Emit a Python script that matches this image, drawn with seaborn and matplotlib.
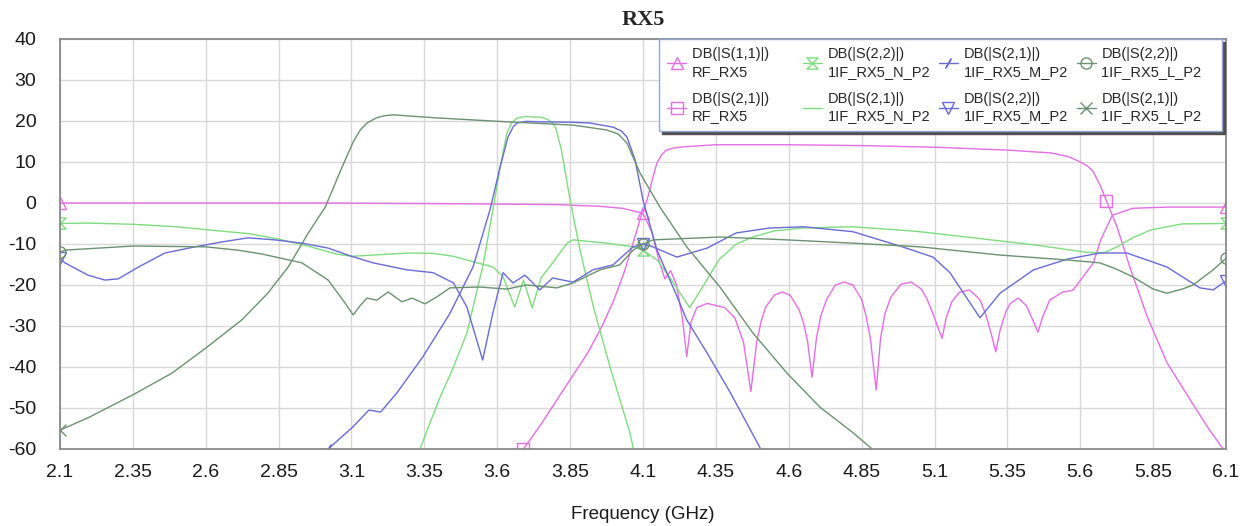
import numpy as np
import pandas as pd
import matplotlib
matplotlib.use("Agg")
import matplotlib.pyplot as plt
from matplotlib.lines import Line2D
import seaborn as sns

# ---------------- data (GHz, dB) ----------------
s11_rf_f = [2.1, 2.5, 3.0, 3.5, 3.8, 3.95, 4.03, 4.07, 4.1, 4.13, 4.155, 4.175, 4.195, 4.215, 4.235, 4.25,
            4.265, 4.285, 4.32, 4.38, 4.415, 4.445, 4.47, 4.49, 4.505, 4.52, 4.55, 4.577, 4.605, 4.635, 4.65,
            4.665, 4.68, 4.695, 4.71, 4.73, 4.76, 4.79, 4.82, 4.85, 4.865, 4.88, 4.9, 4.915, 4.93, 4.95, 4.985,
            5.02, 5.055, 5.075, 5.1, 5.115, 5.126, 5.14, 5.16, 5.185, 5.22, 5.255, 5.275, 5.295, 5.31, 5.325,
            5.345, 5.36, 5.387, 5.415, 5.44, 5.455, 5.47, 5.495, 5.54, 5.575, 5.62, 5.645, 5.67, 5.71, 5.78,
            5.9, 6.1]
s11_rf_db = [0, 0, 0, -0.2, -0.4, -0.8, -1.3, -2, -2.5, -7, -14, -18.5, -16.5, -20, -28, -37.5,
             -29, -25.5, -24.5, -25.5, -28, -34, -46, -34, -29, -25.5, -22.5, -21.7, -22.5, -26, -29,
             -34, -42.5, -33, -27.5, -23.5, -20, -19.3, -20, -23.5, -27.5, -33, -45.6, -33, -27, -23, -19.8,
             -19.3, -21, -23.5, -28, -31, -33, -28, -24, -21.8, -21.2, -23.5, -27, -32, -36.3, -31,
             -26.5, -24.5, -23.2, -25, -29, -31.5, -28, -23.7, -21.7,
             -21.3, -17, -14.6, -9, -3, -1.3, -1.0, -1.0]

s21_rf_f = [3.69, 3.75, 3.805, 3.86, 3.91, 3.96, 4.0, 4.035, 4.066, 4.09, 4.114, 4.135, 4.148, 4.165, 4.18,
            4.205, 4.237, 4.35, 4.6, 4.85, 5.1, 5.35, 5.5, 5.56, 5.6, 5.625, 5.645, 5.67, 5.69, 5.726, 5.77,
            5.83, 5.898, 5.977, 6.04, 6.1]
s21_rf_db = [-60, -54, -48, -42, -36.6, -30, -23.7, -17, -9.8, -4, 0.7, 6.5, 9.8, 11.8, 12.9,
             13.4, 13.7, 14.2, 14.2, 14.0, 13.6, 12.9, 12.2, 11.3, 10, 9, 7.6, 4, 0.5, -5.8, -15.6,
             -27.8, -39, -48, -55, -61]

s22_n_f = [2.1, 2.2, 2.35, 2.5, 2.6, 2.75, 2.85, 2.95, 3.05, 3.1, 3.2, 3.3, 3.38, 3.45, 3.5, 3.585, 3.62,
           3.66, 3.69, 3.72, 3.75, 3.79, 3.84, 3.86, 3.976, 4.066, 4.1, 4.15, 4.2, 4.26, 4.3, 4.36, 4.42,
           4.477, 4.55, 4.65, 4.82, 4.98, 5.05, 5.21, 5.44, 5.62, 5.68, 5.726, 5.78, 5.84, 5.95, 6.1]
s22_n_db = [-5, -4.9, -5.2, -5.8, -6.5, -7.5, -8.8, -10.5, -12.5, -13, -12.6, -12.2, -12.3, -13, -14, -15.6, -18,
            -25.4, -18.8, -25.6, -18.3, -14.6, -9.8, -9, -9.8, -10.7, -11.5, -14, -19, -25.5, -21, -13.9, -10,
            -8.3, -6.8, -6.1, -5.8, -6.6, -7, -8.3, -10.2, -12, -12.2, -10.7, -8.5, -6.6, -5.1, -5]

s21_n_f = [3.335, 3.4, 3.45, 3.496, 3.55, 3.585, 3.61, 3.633, 3.65, 3.668, 3.695, 3.72, 3.75, 3.77, 3.787,
           3.8, 3.82, 3.85, 3.884, 3.93, 3.987, 4.055, 4.07]
s21_n_db = [-60, -48, -40, -31.7, -15.6, -1.7, 8.8, 17, 19.6, 20.7, 21.1, 21, 20.9, 20.5, 19.7,
            18.5, 13, 0.7, -11.5, -25.4, -40, -56, -61]

s21_m_f = [3.02, 3.105, 3.16, 3.2, 3.256, 3.345, 3.438, 3.517, 3.575, 3.61, 3.637, 3.655, 3.668, 3.7, 3.746,
           3.85, 3.918, 3.997, 4.025, 4.045, 4.073, 4.1, 4.148, 4.203, 4.25, 4.32, 4.4, 4.5, 4.51]
s21_m_db = [-60, -54.6, -50.5, -51, -46.3, -37.5, -26.9, -15.6, -1.7, 8.8, 16.1, 18.6, 19.5, 19.9, 19.8,
            19.7, 19.5, 18.5, 17.6, 16.1, 10.5, 0.7, -11.5, -20.5, -28.5, -36.6, -46.3, -59.5, -61]

s22_m_f = [2.1, 2.117, 2.196, 2.254, 2.3, 2.37, 2.46, 2.563, 2.656, 2.745, 2.838, 2.93, 3.02, 3.1, 3.174, 3.29,
           3.38, 3.45, 3.496, 3.55, 3.585, 3.62, 3.654, 3.695, 3.746, 3.79, 3.86, 3.928, 3.997, 4.066, 4.1,
           4.134, 4.216, 4.32, 4.42, 4.535, 4.65, 4.82, 4.99, 5.095, 5.153, 5.256, 5.325, 5.44, 5.555, 5.667,
           5.76, 5.897, 6.01, 6.056, 6.1]
s22_m_db = [-13.5, -14.6, -17.6, -18.8, -18.5, -15.6, -12.2, -10.7, -9.5, -8.5, -9, -9.8, -11, -13, -14.6, -16.3,
            -17, -19.5, -25.4, -38.3, -26.8, -17, -19.5, -17.6, -21.2, -18.3, -19.3, -16.3, -15.1, -10.7, -10,
            -10.7, -13.2, -11, -7.3, -6.1, -5.8, -7, -10.7, -13.2, -17, -28, -22, -16.3, -13.7, -12.2,
            -12.2, -15.6, -20.7, -21.2, -19]

s22_l_f = [2.1, 2.117, 2.35, 2.6, 2.71, 2.79, 2.93, 3.02, 3.078, 3.106, 3.13, 3.153, 3.187, 3.226, 3.273, 3.308,
           3.352, 3.393, 3.438, 3.54, 3.633, 3.7, 3.805, 3.86, 3.953, 4.02, 4.066, 4.1, 4.134, 4.364, 4.594,
           4.82, 5.05, 5.325, 5.555, 5.667, 5.72, 5.78, 5.85, 5.897, 5.95, 5.987, 6.056, 6.1]
s22_l_db = [-12, -11.5, -10.5, -10.7, -11.5, -12.4, -14.6, -18.8, -24.4, -27.3, -25, -23.2, -23.7, -21.7, -24.1, -23.2,
            -24.6, -22.9, -20.7, -20.5, -21, -20, -20.7, -19.5, -16.3, -15.1, -11.5, -10, -9, -8.3, -9,
            -9.8, -10.7, -12.7, -13.9, -14.6, -16, -18, -21, -22, -21, -20, -16.3, -13.5]

s21_l_f = [2.1, 2.196, 2.35, 2.484, 2.6, 2.724, 2.813, 2.883, 2.952, 3.01, 3.068, 3.106, 3.13, 3.153, 3.187,
           3.215, 3.243, 3.3, 3.404, 3.633, 3.86, 3.976, 4.015, 4.045, 4.09, 4.158, 4.25, 4.364, 4.477, 4.594,
           4.707, 4.82, 4.886, 4.9]
s21_l_db = [-55.4, -52.4, -46.8, -41.5, -35.4, -28.5, -22, -15.6, -7.3, -1, 8.8, 14.9, 17.8, 19.5, 20.8,
            21.3, 21.5, 21.2, 20.7, 19.8, 19, 17.8, 16.8, 14.6, 7.3, -1, -10.7, -20.5, -31.7, -41.5,
            -49.8, -56, -60, -61]

legend_titles = ["DB(|S(1,1)|)", "DB(|S(2,1)|)", "DB(|S(2,2)|)", "DB(|S(2,1)|)",
                 "DB(|S(2,1)|)", "DB(|S(2,2)|)", "DB(|S(2,2)|)", "DB(|S(2,1)|)"]
legend_docs = ["RF_RX5", "RF_RX5", "1IF_RX5_N_P2", "1IF_RX5_N_P2",
               "1IF_RX5_M_P2", "1IF_RX5_M_P2", "1IF_RX5_L_P2", "1IF_RX5_L_P2"]

x_ticks = [2.1, 2.35, 2.6, 2.85, 3.1, 3.35, 3.6, 3.85, 4.1, 4.35, 4.6, 4.85, 5.1, 5.35, 5.6, 5.85, 6.1]
x_tick_labels = ["2.1", "2.35", "2.6", "2.85", "3.1", "3.35", "3.6", "3.85", "4.1", "4.35", "4.6",
                 "4.85", "5.1", "5.35", "5.6", "5.85", "6.1"]
y_ticks = [40, 30, 20, 10, 0, -10, -20, -30, -40, -50, -60]

# ---------------- style ----------------
sns.set_style("white")
plt.rcParams["font.family"] = ["Liberation Sans", "DejaVu Sans"]

MAG = "#e46ee4"
LGR = "#7edc7e"
BLU = "#6a6ad6"
DGR = "#6a9270"

hourglass = [(-1, 1), (1, 1), (-1, -1), (1, -1), (-1, 1)]

series = [
    # f, db, color, marker, marker freqs
    (s11_rf_f, s11_rf_db, MAG, "^", [2.1, 4.1, 6.1]),
    (s21_rf_f, s21_rf_db, MAG, "s", [3.69, 5.69]),
    (s22_n_f, s22_n_db, LGR, hourglass, [2.1, 4.1, 6.1]),
    (s21_n_f, s21_n_db, LGR, None, []),
    (s21_m_f, s21_m_db, BLU, (2, 2, -30), [3.02]),
    (s22_m_f, s22_m_db, BLU, "v", [2.1, 4.1, 6.1]),
    (s22_l_f, s22_l_db, DGR, "o", [2.1, 4.1, 6.1]),
    (s21_l_f, s21_l_db, DGR, "x", [2.1]),
]

fig = plt.figure(figsize=(12.49, 5.26), dpi=100)
ax = fig.add_axes([0.048, 0.1464, 0.9336, 0.7795])

handles = []
labels = []
for i, (f, db, col, mk, mfreqs) in enumerate(series):
    df = pd.DataFrame({"f": f, "db": db})
    idx = [j for j, fv in enumerate(f) if any(abs(fv - m) < 1e-9 for m in mfreqs)]
    kw = {}
    if mk is not None and idx:
        kw = dict(marker=mk, markevery=idx, markersize=8, markerfacecolor="none",
                  markeredgecolor=col, markeredgewidth=1.0)
    sns.lineplot(data=df, x="f", y="db", ax=ax, color=col, linewidth=1.0,
                 estimator=None, sort=False, legend=False, **kw)
    h = Line2D([], [], color=col, linewidth=1.0,
               marker=mk if mk is not None else None, markersize=8,
               markerfacecolor="none", markeredgecolor=col, markeredgewidth=1.0)
    handles.append(h)
    t = legend_titles[i]
    if i < 2:
        t = t + "\u00a0" * 6
    doc = legend_docs[i]
    if i >= 6:
        doc = doc + "\u00a0" * 3
    labels.append(t + "\n" + doc)

ax.set_xlim(2.1, 6.1)
ax.set_ylim(-60, 40)
ax.set_xticks(x_ticks)
ax.set_xticklabels(x_tick_labels)
ax.set_yticks(y_ticks)
ax.set_yticklabels([str(v) for v in y_ticks])
ax.grid(True, color="#d8d8d8", linewidth=1.0)
ax.set_axisbelow(True)
for s in ax.spines.values():
    s.set_color("#8a8a8a")
    s.set_linewidth(1.3)
ax.tick_params(axis="both", length=0, labelsize=14, colors="#1a1a1a")
ax.tick_params(axis="y", pad=17)
ax.tick_params(axis="x", pad=11)
ax.set_xlabel("Frequency (GHz)", fontsize=13.5, labelpad=18, color="#1a1a1a")
ax.set_ylabel("")
ax.set_title("RX5", fontsize=16, fontweight="bold", family="Liberation Serif", pad=10)

leg = ax.legend(handles, labels, ncol=4, loc="upper right", bbox_to_anchor=(0.9965, 0.999),
                borderaxespad=0.0,
                fontsize=10.5, frameon=True, fancybox=False, shadow={"color": "#505050", "alpha": 1},
                handlelength=1.3, handletextpad=0.4, columnspacing=0.6, labelspacing=0.9,
                borderpad=0.55, framealpha=1)
for t in leg.get_texts():
    t.set_linespacing(1.3)
leg.get_frame().set_edgecolor("#8fa8d0")
leg.get_frame().set_linewidth(1.0)

fig.savefig("out.png", dpi=100)
